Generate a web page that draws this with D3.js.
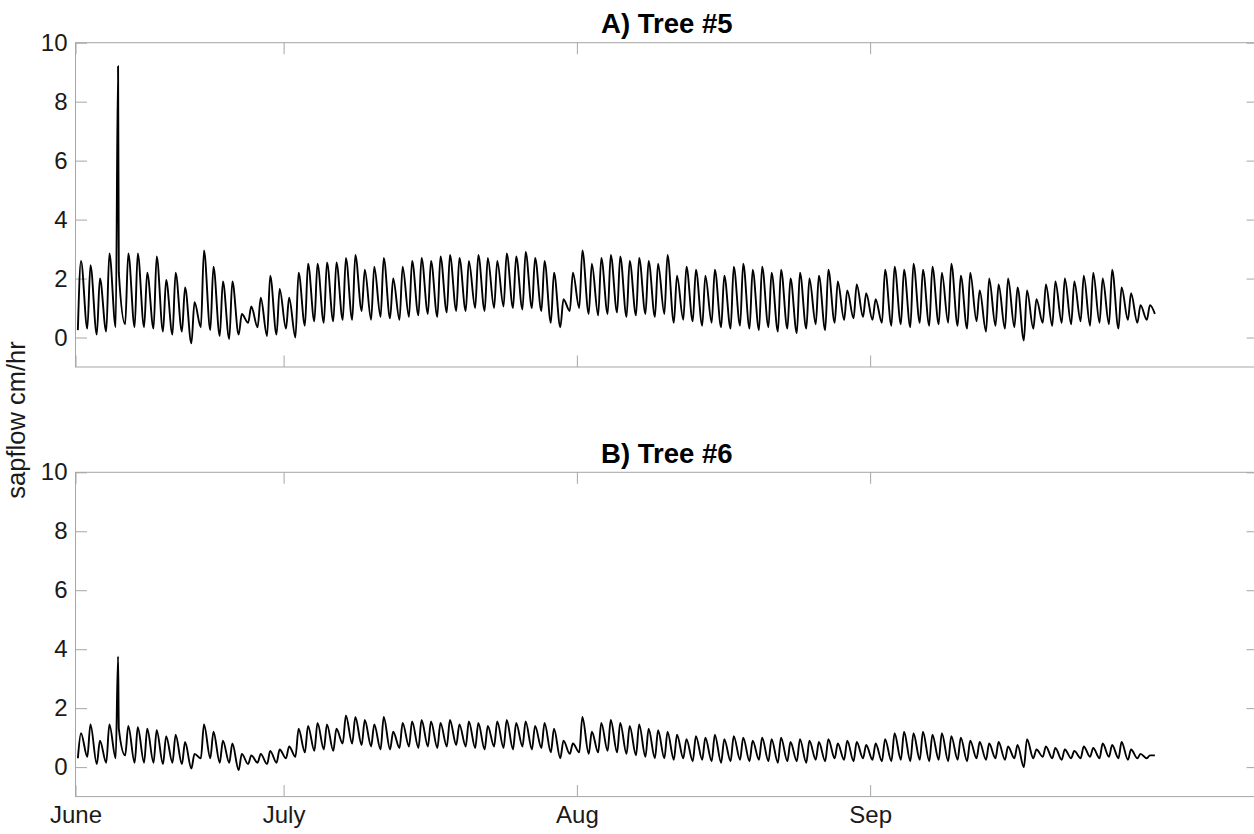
<!DOCTYPE html>
<html>
<head>
<meta charset="utf-8">
<script src="https://cdn.jsdelivr.net/npm/d3@7"></script>
<style>
  body { margin: 0; background: #fff; }
  svg { display: block; font-family: "Liberation Sans", Arial, Helvetica, sans-serif; }
</style>
</head>
<body>
<svg id="chart" width="1254" height="834"></svg>
<script>
// Sap flow (cm/hr), summarised as daily morning minimum and afternoon maximum.
// Day-of-year 160 (June 9) through 273, plus the final reading on day 274.
const firstDay = 160;

const tree5Low = [
  0.25, 0.3, 0.1, 0.2, 0.35, 0.45, 0.35, 0.35, 0.3, 0.2,
  0.1, 0.2, -0.2, 0.35, 0.25, 0.05, -0.05, 0.1, 0.5, 0.35,
  0.05, 0.1, 0.3, 0.0, 0.4, 0.55, 0.5, 0.55, 0.6, 0.6,
  0.9, 0.6, 0.7, 0.65, 0.6, 0.7, 0.75, 0.8, 0.7, 0.85,
  0.9, 0.9, 1.0, 0.9, 1.0, 1.05, 1.0, 0.95, 1.0, 0.9,
  0.5, 0.35, 0.9, 1.0, 0.8, 0.75, 0.8, 0.85, 0.7, 0.75,
  0.8, 0.7, 0.8, 0.5, 0.6, 0.55, 0.4, 0.5, 0.35, 0.3,
  0.4, 0.3, 0.25, 0.35, 0.2, 0.3, 0.15, 0.3, 0.45, 0.25,
  0.5, 0.6, 0.65, 0.7, 0.6, 0.5, 0.4, 0.45, 0.35, 0.5,
  0.4, 0.45, 0.5, 0.4, 0.3, 0.55, 0.2, 0.4, 0.3, 0.35,
  -0.1, 0.3, 0.5, 0.4, 0.5, 0.45, 0.55, 0.4, 0.5, 0.45,
  0.3, 0.6, 0.5, 0.6
];
const tree5High = [
  2.6, 2.45, 2.0, 2.85, 2.2, 2.85, 2.85, 2.2, 2.75, 1.95,
  2.2, 1.7, 1.2, 2.95, 2.4, 1.9, 1.9, 0.8, 1.05, 1.35,
  2.1, 1.65, 1.35, 2.2, 2.5, 2.5, 2.55, 2.55, 2.7, 2.8,
  2.3, 2.4, 2.7, 2.0, 2.4, 2.6, 2.7, 2.6, 2.75, 2.8,
  2.7, 2.6, 2.8, 2.7, 2.6, 2.85, 2.75, 2.9, 2.7, 2.6,
  2.2, 1.3, 2.2, 2.95, 2.5, 2.7, 2.8, 2.75, 2.6, 2.7,
  2.6, 2.5, 2.8, 2.1, 2.4, 2.3, 2.1, 2.3, 2.1, 2.4,
  2.5, 2.3, 2.4, 2.2, 2.3, 2.0, 2.2, 2.0, 2.1, 2.3,
  1.9, 1.6, 1.8, 1.5, 1.3, 2.3, 2.4, 2.3, 2.5, 2.3,
  2.4, 2.2, 2.5, 2.1, 2.2, 1.6, 2.0, 1.8, 2.0, 1.7,
  1.6, 1.3, 1.8, 1.9, 2.0, 1.9, 2.1, 2.2, 2.0, 2.3,
  1.7, 1.5, 1.1, 1.1
];
const tree5Last = 0.8;

const tree6Low = [
  0.3, 0.35, 0.1, 0.15, 0.3, 0.4, 0.15, 0.15, 0.15, 0.1,
  0.15, 0.1, -0.05, 0.3, 0.3, 0.15, 0.15, -0.1, 0.1, 0.15,
  0.1, 0.15, 0.3, 0.35, 0.5, 0.55, 0.6, 0.55, 0.8, 0.8,
  0.75, 0.7, 0.6, 0.6, 0.65, 0.7, 0.65, 0.7, 0.65, 0.7,
  0.75, 0.7, 0.65, 0.6, 0.7, 0.65, 0.6, 0.7, 0.6, 0.65,
  0.5, 0.3, 0.45, 0.5, 0.45, 0.5, 0.55, 0.5, 0.45, 0.4,
  0.35, 0.3, 0.3, 0.25, 0.3, 0.2, 0.25, 0.2, 0.15, 0.2,
  0.25, 0.2, 0.25, 0.2, 0.15, 0.2, 0.2, 0.15, 0.25, 0.2,
  0.3, 0.25, 0.2, 0.3, 0.25, 0.2, 0.2, 0.25, 0.2, 0.25,
  0.2, 0.25, 0.2, 0.25, 0.2, 0.3, 0.25, 0.3, 0.25, 0.3,
  0.0, 0.3, 0.35, 0.3, 0.25, 0.3, 0.3, 0.35, 0.3, 0.35,
  0.3, 0.25, 0.3, 0.3
];
const tree6High = [
  1.15, 1.45, 0.9, 1.45, 1.3, 1.4, 1.35, 1.3, 1.25, 1.05,
  1.1, 0.85, 0.45, 1.45, 1.2, 0.9, 0.8, 0.45, 0.4, 0.45,
  0.55, 0.6, 0.7, 1.3, 1.4, 1.5, 1.45, 1.3, 1.75, 1.7,
  1.6, 1.45, 1.7, 1.2, 1.5, 1.55, 1.6, 1.55, 1.5, 1.6,
  1.45, 1.55, 1.5, 1.4, 1.55, 1.6, 1.5, 1.55, 1.4, 1.5,
  1.3, 0.9, 0.8, 1.7, 1.2, 1.5, 1.6, 1.5, 1.4, 1.45,
  1.3, 1.25, 1.2, 1.1, 0.95, 1.05, 1.0, 1.1, 0.95, 1.05,
  1.0, 0.9, 1.0, 0.95, 1.0, 0.85, 0.95, 0.9, 0.85, 0.95,
  0.8, 0.9, 0.85, 0.75, 0.8, 0.95, 1.15, 1.2, 1.15, 1.2,
  1.1, 1.15, 1.05, 1.0, 0.9, 0.85, 0.8, 0.85, 0.7, 0.75,
  0.95, 0.6, 0.7, 0.65, 0.6, 0.55, 0.7, 0.65, 0.8, 0.75,
  0.85, 0.6, 0.45, 0.4
];
const tree6Last = 0.4;

// Single-reading spikes on day 164
const tree5Spikes = [{ day: 164.5, value: 9.2 }];
const tree6Spikes = [{ day: 164.5, value: 3.75 }];

// Axis ticks
const xTickValues = [160, 182, 213, 244];
const xTickLabels = ["June", "July", "Aug", "Sep"];
const yTickValues = [0, 2, 4, 6, 8, 10];

const panels = [
  { title: "A) Tree #5", low: tree5Low, high: tree5High, last: tree5Last, spikes: tree5Spikes, top: 42.7, showX: false },
  { title: "B) Tree #6", low: tree6Low, high: tree6High, last: tree6Last, spikes: tree6Spikes, top: 472.3, showX: true }
];

const left = 75.5, right = 1258, height = 324.3;
const svg = d3.select("#chart");

const x = d3.scaleLinear().domain([160, 285]).range([left, right]);

function seriesPoints(p) {
  const pts = [];
  p.low.forEach((v, i) => {
    const d = firstDay + i;
    pts.push({ t: d + 0.25, v: v });
    p.spikes.filter(s => Math.floor(s.day) === d).forEach(s => pts.push({ t: s.day, v: s.value }));
    pts.push({ t: d + 0.58, v: p.high[i] });
  });
  pts.push({ t: firstDay + p.low.length + 0.1, v: p.last });
  return pts;
}

panels.forEach(p => {
  const y = d3.scaleLinear().domain([-1, 10]).range([p.top + height, p.top]);
  const g = svg.append("g");

  // plot frame
  g.append("rect")
    .attr("x", left).attr("y", p.top)
    .attr("width", right - left).attr("height", height)
    .attr("fill", "none").attr("stroke", "#a6a6a6").attr("stroke-width", 1);

  const styleAxis = sel => {
    sel.select(".domain").remove();
    sel.selectAll(".tick line").attr("stroke", "#a6a6a6").attr("stroke-width", 1);
    sel.selectAll(".tick text").attr("fill", "#1a1a1a").style("font-size", "24px");
  };

  g.append("g").attr("transform", `translate(${left},0)`)
    .call(d3.axisLeft(y).tickValues(yTickValues).tickSize(-11.5).tickPadding(8).tickFormat(d3.format("d")))
    .call(styleAxis);
  g.append("g").attr("transform", `translate(${right},0)`)
    .call(d3.axisRight(y).tickValues(yTickValues).tickSize(-11.5).tickFormat(""))
    .call(styleAxis);
  g.append("g").attr("transform", `translate(0,${p.top})`)
    .call(d3.axisTop(x).tickValues(xTickValues).tickSize(-11.5).tickFormat(""))
    .call(styleAxis);
  g.append("g").attr("transform", `translate(0,${p.top + height})`)
    .call(d3.axisBottom(x).tickValues(xTickValues).tickSize(-11.5).tickPadding(9)
      .tickFormat(p.showX ? ((d, i) => xTickLabels[i]) : ""))
    .call(styleAxis);

  // sap flow trace
  const line = d3.line().curve(d3.curveMonotoneX).x(d => x(d.t)).y(d => y(d.v));
  g.append("path")
    .datum(seriesPoints(p))
    .attr("fill", "none")
    .attr("stroke", "#000")
    .attr("stroke-width", 1.9)
    .attr("stroke-linejoin", "round")
    .attr("d", line);

  g.append("text")
    .attr("x", (left + right) / 2).attr("y", p.top - 9.5)
    .attr("text-anchor", "middle")
    .attr("font-weight", "bold")
    .attr("font-size", "27.5px")
    .attr("fill", "#000")
    .text(p.title);
});

svg.append("text")
  .attr("transform", `translate(25,420) rotate(-90)`)
  .attr("text-anchor", "middle")
  .attr("font-size", "25.5px")
  .attr("fill", "#1a1a1a")
  .text("sapflow cm/hr");
</script>
</body>
</html>
